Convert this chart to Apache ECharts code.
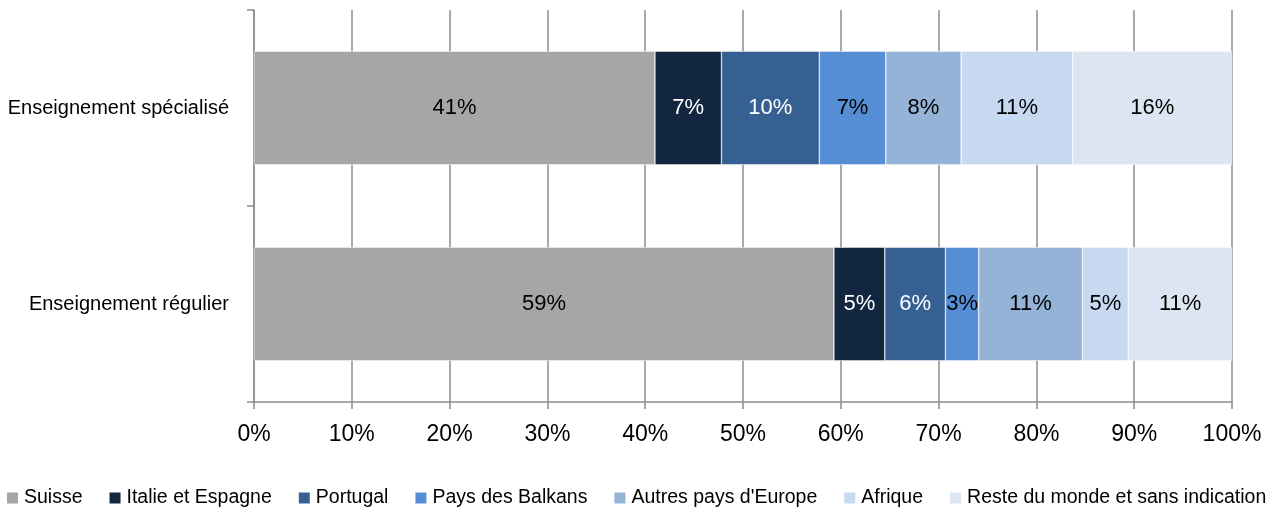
<!DOCTYPE html>
<html>
<head>
<meta charset="utf-8">
<script src="https://cdn.jsdelivr.net/npm/echarts@6/dist/echarts.min.js"></script>
<style>
  html, body { margin: 0; padding: 0; background: #fff; }
  #chart { width: 1279px; height: 513px; }
</style>
</head>
<body>
<div id="chart"></div>
<script>
// categories bottom-to-top (category axis on y starts at the bottom)
const categories = ['Enseignement régulier', 'Enseignement spécialisé'];
const seriesNames = ['Suisse', 'Italie et Espagne', 'Portugal', 'Pays des Balkans', "Autres pays d'Europe", 'Afrique', 'Reste du monde et sans indication'];
const suisse = [59.3, 41.0];
const italieEspagne = [5.2, 6.8];
const portugal = [6.2, 10.0];
const balkans = [3.4, 6.8];
const autresEurope = [10.6, 7.7];
const afrique = [4.7, 11.4];
const resteMonde = [10.6, 16.3];
const tickLabels = ['0%', '10%', '20%', '30%', '40%', '50%', '60%', '70%', '80%', '90%', '100%'];

const values = [suisse, italieEspagne, portugal, balkans, autresEurope, afrique, resteMonde];
const colors = ['#a6a6a6', '#12263f', '#366092', '#558ed5', '#95b3d7', '#c6d9f1', '#dce6f2'];
const labelColors = ['#000', '#fff', '#fff', '#000', '#000', '#000', '#000'];
const font = 'Liberation Sans, Arial, sans-serif';

const chart = echarts.init(document.getElementById('chart'));
chart.setOption({
  animation: false,
  grid: { left: 254, right: 47, top: 10, bottom: 111, containLabel: false },
  legend: {
    left: 0, bottom: 0,
    itemWidth: 13, itemHeight: 13, itemGap: 25,
    icon: 'rect',
    textStyle: { fontFamily: font, fontSize: 19.5, color: '#000' },
    data: seriesNames
  },
  xAxis: {
    type: 'value', min: 0, max: 100, interval: 10,
    axisLine: { show: true, lineStyle: { color: '#8c8c8c', width: 1.5 } },
    axisTick: { show: true, length: 7, lineStyle: { color: '#8c8c8c', width: 1.5 } },
    splitLine: { show: true, lineStyle: { color: '#8c8c8c', width: 1.5 } },
    axisLabel: {
      fontFamily: font, fontSize: 23, color: '#000', margin: 21,
      formatter: v => tickLabels[Math.round(v / 10)]
    }
  },
  yAxis: {
    type: 'category', data: categories,
    axisLine: { show: true, lineStyle: { color: '#8c8c8c', width: 1.5 } },
    axisTick: { show: true, length: 7, lineStyle: { color: '#8c8c8c', width: 1.5 } },
    axisLabel: { fontFamily: font, fontSize: 20, color: '#000', margin: 25 }
  },
  series: values.map((arr, i) => ({
    name: seriesNames[i],
    type: 'bar',
    stack: 'total',
    barWidth: '58%',
    data: arr,
    itemStyle: { color: colors[i], borderColor: '#fff', borderWidth: 0.5 },
    label: {
      show: true, position: 'inside',
      fontFamily: font, fontSize: 22, color: labelColors[i],
      formatter: p => Math.round(p.value) + '%'
    }
  }))
});
</script>
</body>
</html>
